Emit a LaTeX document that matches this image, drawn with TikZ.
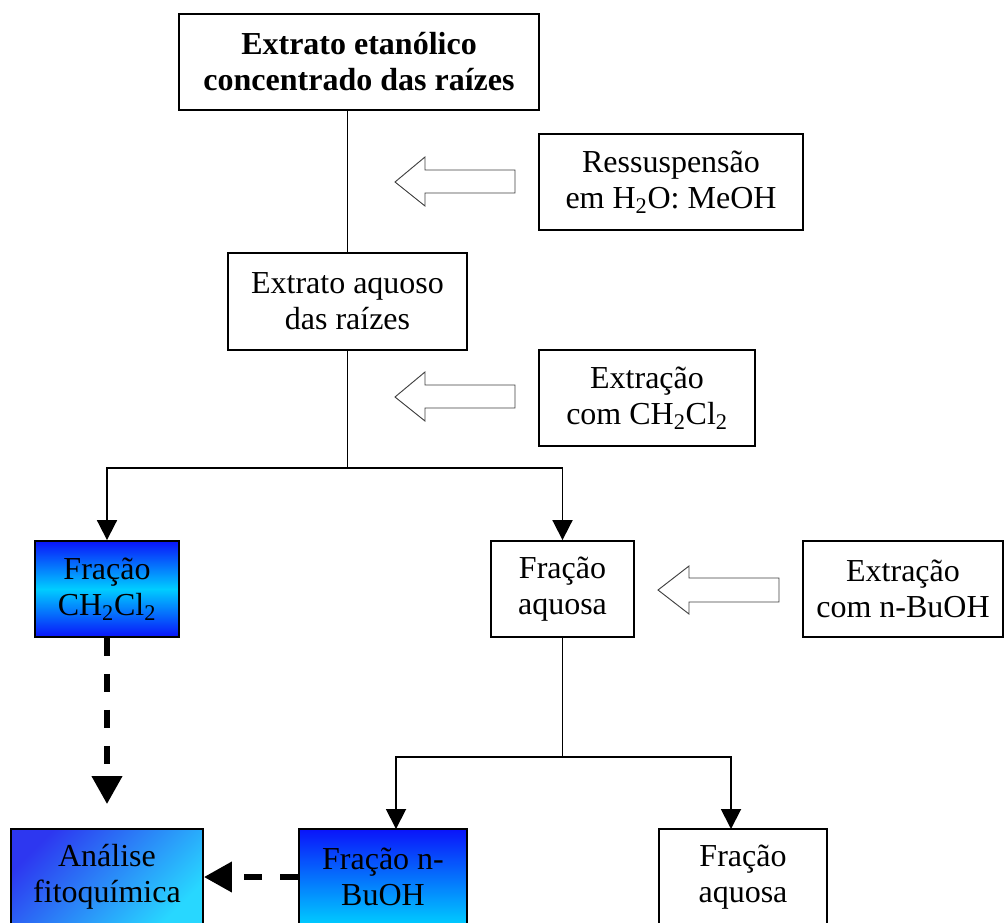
\documentclass[tikz,border=0pt]{standalone}
\usepackage{fontspec}
\setmainfont{Liberation Serif}
\usetikzlibrary{arrows.meta,calc}
\definecolor{deepblue}{RGB}{10,20,250}
\definecolor{skycyan}{RGB}{0,205,255}
\definecolor{anablue}{RGB}{45,55,240}
\definecolor{anacyan}{RGB}{40,215,255}
\tikzset{
  box/.style={draw=black, line width=1.4pt, inner sep=0pt, align=center,
    font=\fontsize{24}{27}\selectfont},
  link/.style={line width=1.4pt, -{Triangle[length=15pt,width=15pt]}},
  plainlink/.style={line width=1.4pt},
  dashlink/.style={line width=4.5pt, dash pattern=on 13.5pt off 13.5pt,
    -{Triangle[length=21pt,width=22pt]}},
  hollow/.style={draw=black!75, line width=0.7pt, fill=white, line join=miter},
}
\begin{document}
\begin{tikzpicture}[x=0.75pt, y=-0.75pt]
  \useasboundingbox (0,0) rectangle (1005,922);
  \clip (0,0) rectangle (1005,922);

  % process boxes
  \node[box, font=\fontsize{24}{27}\selectfont\bfseries,
        minimum width=270pt, minimum height=72pt] (top) at (359,62)
        {Extrato etanólico\\concentrado das raízes};
  \node[box, minimum width=198pt, minimum height=72pt] (ress) at (671,182)
        {Ressuspensão\\em H\textsubscript{2}O: MeOH};
  \node[box, minimum width=179pt, minimum height=72.5pt] (aquoso) at (347.5,301.5)
        {Extrato aquoso\\das raízes};
  \node[box, minimum width=162pt, minimum height=72pt] (extr) at (647,398)
        {Extração\\com CH\textsubscript{2}Cl\textsubscript{2}};
  \node[box, minimum width=108pt, minimum height=72pt,
        top color=deepblue, bottom color=deepblue, middle color=skycyan] (fch) at (107,589)
        {Fração\\CH\textsubscript{2}Cl\textsubscript{2}};
  \node[box, minimum width=107pt, minimum height=72pt] (faq) at (562.5,589)
        {Fração\\aquosa};
  \node[box, minimum width=150pt, minimum height=72pt] (exb) at (903,589)
        {Extração\\com n-BuOH};
  \node[box, minimum width=126pt, minimum height=72pt,
        top color=deepblue, bottom color=skycyan] (fnb) at (383,877)
        {Fração n-\\BuOH};
  \node[box, minimum width=126pt, minimum height=72pt] (faq2) at (743,877)
        {Fração\\aquosa};
  \node[box, minimum width=144pt, minimum height=72pt,
        top color=anablue, bottom color=anacyan, shading angle=45] (ana) at (107,877)
        {Análise\\fitoquímica};

  % hollow block arrows for the added reagents
  \draw[hollow] (395,182) -- (425,157) -- (425,170) -- (515,170) -- (515,193)
                -- (425,193) -- (425,206) -- cycle;
  \draw[hollow] (395,397) -- (425,372) -- (425,385) -- (515,385) -- (515,408)
                -- (425,408) -- (425,421) -- cycle;
  \draw[hollow] (658,590) -- (689,566) -- (689,578) -- (779,578) -- (779,602)
                -- (689,602) -- (689,614) -- cycle;

  % connectors
  \draw[plainlink] (top.south -| aquoso.north) -- (aquoso.north);
  \coordinate (j1) at (347.5,468);
  \draw[plainlink] (aquoso.south) -- (j1);
  \draw[link] (j1) -| (fch.north);
  \draw[link] (j1) -| (faq.north);

  \coordinate (j2) at (562.5,757);
  \coordinate (fnbin) at (396,829);
  \coordinate (faqin) at (731,829);
  \draw[plainlink] (faq.south) -- (j2);
  \draw[link] (j2) -| (fnbin);
  \draw[link] (j2) -| (faqin);

  \draw[dashlink, shorten >=18pt] (fch.south) -- (fch.south |- ana.north);
  \draw[dashlink] (fnb.west) -- (ana.east);
\end{tikzpicture}
\end{document}
